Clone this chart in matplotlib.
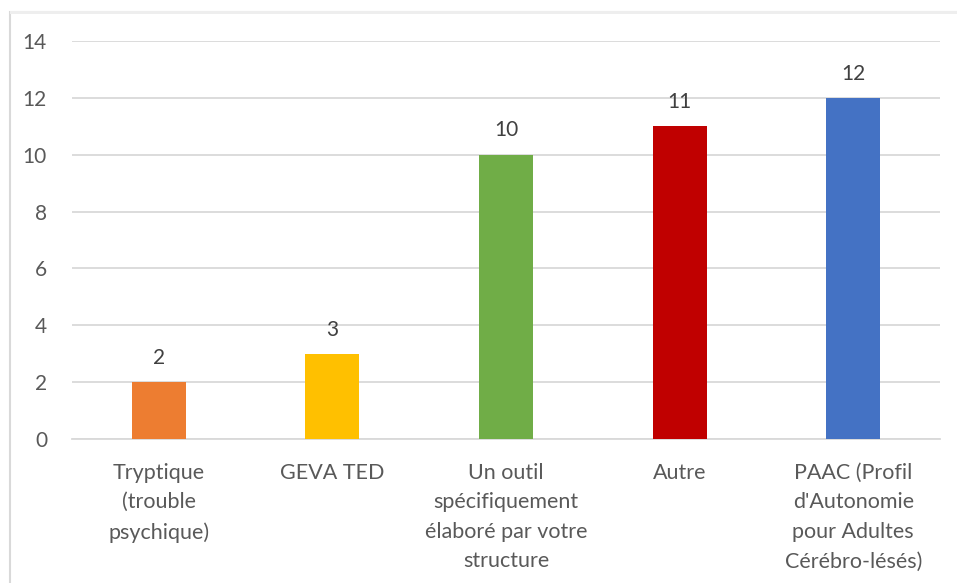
import matplotlib.pyplot as plt
from matplotlib.patches import Rectangle

# Data
categories = ["Tryptique\n(trouble\npsychique)", "GEVA TED",
              "Un outil\nspécifiquement\nélaboré par votre\nstructure",
              "Autre", "PAAC (Profil\nd'Autonomie\npour Adultes\nCérébro-lésés)"]
values = [2, 3, 10, 11, 12]
colors = ["#ED7D31", "#FFC000", "#70AD47", "#C00000", "#4472C4"]
yticks = [0, 2, 4, 6, 8, 10, 12, 14]

plt.rcParams['font.family'] = ['Lato', 'DejaVu Sans']

fig = plt.figure(figsize=(9.57, 5.83), dpi=100)
# chart frame with a light border
fig.patches.append(Rectangle((10 / 957, -0.1), 1.0, 1.1 - 12 / 583,
                             transform=fig.transFigure, fill=False,
                             edgecolor="#D9D9D9", linewidth=1.5))
fig.patches.append(Rectangle((10 / 957, 1 - 14 / 583), 1.0, 3 / 583,
                             transform=fig.transFigure, facecolor="#EEEEEE",
                             edgecolor="none"))

ax = fig.add_axes([72 / 957, 144 / 583, 868 / 957, 398 / 583])
x = range(len(values))
bars = ax.bar(x, values, width=0.31, color=colors, zorder=3)
for xi, v in zip(x, values):
    ax.text(xi, v + 0.5, str(v), ha="center", va="bottom",
            fontsize=15, color="#404040")

ax.set_xlim(-0.5, len(values) - 0.5)
ax.set_ylim(0, 14)
ax.set_yticks(yticks)
ax.yaxis.grid(True, color="#D9D9D9", linewidth=1.3, zorder=0)
ax.set_xticks(list(x))
ax.set_xticklabels(categories, fontsize=15.5, color="#595959", linespacing=1.6)
ax.tick_params(axis="y", labelsize=15, labelcolor="#595959", length=0, pad=18)
ax.tick_params(axis="x", length=0, pad=17)
for s in ["top", "right", "left"]:
    ax.spines[s].set_visible(False)
ax.spines["bottom"].set_color("#D9D9D9")
ax.spines["bottom"].set_linewidth(1.3)

fig.savefig("out.png", dpi=100)
